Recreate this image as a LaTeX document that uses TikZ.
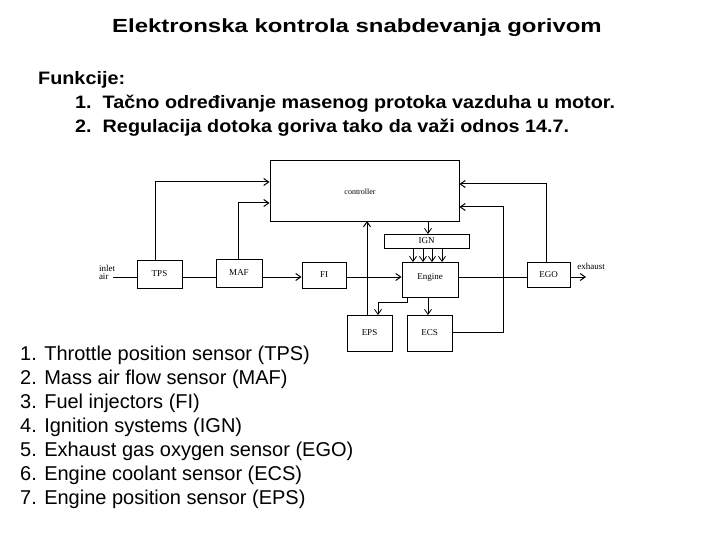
\documentclass[tikz,border=0pt]{standalone}
\usepackage{fontspec}
\setmainfont{Liberation Sans}
\newfontfamily\dserif{Liberation Serif}
\usetikzlibrary{arrows.meta}
\begin{document}
\begin{tikzpicture}[x=1pt,y=-1pt,
  box/.style={draw,line width=0.9pt,inner sep=0pt,font=\dserif\fontsize{9}{10}\selectfont},
  ln/.style={line width=1pt},
  ar/.style={ln,-{Straight Barb[length=5pt,width=7pt]}},
  txt/.style={inner sep=0pt,anchor=west,font=\fontsize{20}{24}\selectfont},
  btxt/.style={inner sep=0pt,anchor=west,font=\bfseries\fontsize{18}{22}\selectfont}]
\useasboundingbox (0,0) rectangle (720,540);
\node[font=\bfseries\fontsize{19}{22}\selectfont] (title) at (357,28) {\scalebox{1.26}[1]{Elektronska kontrola snabdevanja gorivom}};
\node[btxt] (f0) at (38,80) {\scalebox{1.1}[1]{Funkcije:}};
\node[btxt] (f1) at (75,104) {\scalebox{1.1}[1]{1.\ \ Tačno određivanje masenog protoka vazduha u motor.}};
\node[btxt] (f2) at (75,128) {\scalebox{1.1}[1]{2.\ \ Regulacija dotoka goriva tako da važi odnos 14.7.}};
\foreach \i/\t [count=\k from 0] in {1/Throttle position sensor (TPS),2/Mass air flow sensor (MAF),3/Fuel injectors (FI),4/Ignition systems (IGN),5/Exhaust gas oxygen sensor (EGO),6/Engine coolant sensor (ECS),7/Engine position sensor (EPS)}
  \node[txt] (l\i) at (20,355+24*\k) {\i. \t};
% boxes
\node[box,minimum width=189pt,minimum height=61pt] (ctl) at (364.5,190.5) {};
\node[font=\dserif\fontsize{8}{9}\selectfont] (ctlt) at (360,192) {controller};
\node[box,minimum width=85pt,minimum height=14pt] (ign) at (426.5,241) {IGN};
\node[box,minimum width=45pt,minimum height=28pt] (tps) at (159.5,274) {TPS};
\node[box,minimum width=46pt,minimum height=28pt] (maf) at (239,273) {MAF};
\node[box,minimum width=44pt,minimum height=26pt] (fi) at (324,275) {FI};
\node[box,minimum width=56pt,minimum height=35pt,text depth=6pt] (eng) at (430,279.5) {Engine};
\node[box,minimum width=43pt,minimum height=25pt] (ego) at (548.5,274.5) {EGO};
\node[box,minimum width=45pt,minimum height=36pt] (eps) at (369.5,333) {EPS};
\node[box,minimum width=45pt,minimum height=36pt] (ecs) at (429.5,333) {ECS};
\node[font=\dserif\fontsize{9}{10}\selectfont,align=left,inner sep=0pt] (inl) at (107,272) {inlet\\[-2pt]air};
\node[font=\dserif\fontsize{9}{10}\selectfont,inner sep=0pt] (exh) at (591,266) {exhaust};
\coordinate (inS) at (113,277);
\coordinate (exE) at (586,277);
% flow line
\draw[ln] (inS) -- (tps.west|-inS);
\draw[ln] (tps.east|-inS) -- (maf.west|-inS);
\draw[ar] (maf.east|-inS) -- (fi.west|-inS);
\draw[ar] (fi.east|-inS) -- (eng.west|-inS);
\draw[ln] (eng.east|-inS) -- (ego.west|-inS);
\draw[ar] (ego.east|-inS) -- (exE);
% feedback
\draw[ar] (155,260) -- (155,182) -- (ctl.west|-,182);
\draw[ar] (238,259) -- (238,203) -- (ctl.west|-,203);
\draw[ar] (367,315) -- (367,221);
\draw[ar] (546,262) -- (546,184) -- (ctl.east|-,184);
\draw[ar] (ecs.east|-,332) -- (503,332) -- (503,207) -- (ctl.east|-,207);
\draw[ar,line width=0.8pt] (428,221) -- (428,234);
\foreach \x in {413,423,432,442} \draw[ar,line width=0.8pt] (\x,248) -- (\x,262);
\draw[ar,line width=0.8pt] (407,297) -- (407,302) -- (378,302) -- (378,315);
\draw[ar,line width=0.8pt] (428,297) -- (428,315);
\end{tikzpicture}
\end{document}
